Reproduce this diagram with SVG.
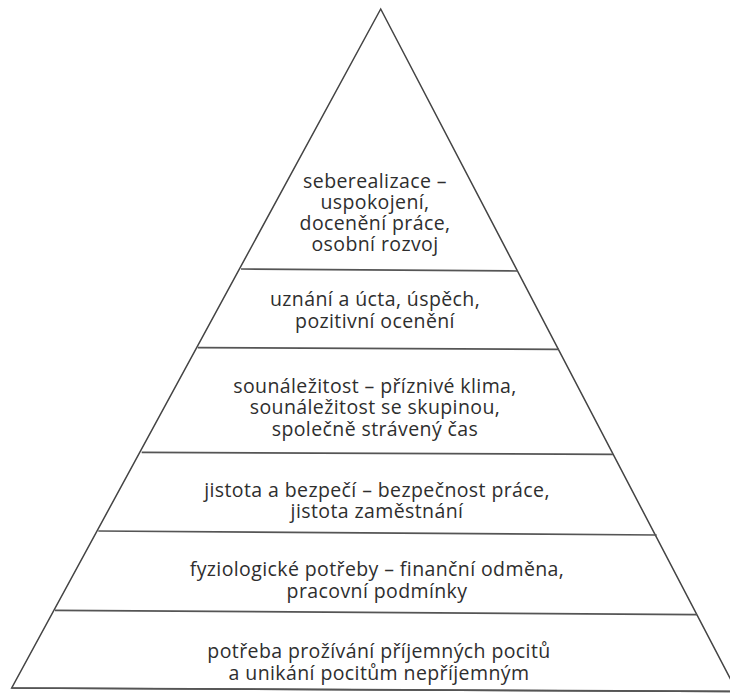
<svg xmlns="http://www.w3.org/2000/svg" width="730" height="693" viewBox="0 0 730 693">
<style>
.edge{fill:none;stroke:#444;stroke-width:1.5;stroke-linejoin:miter}
.div{stroke:#555;stroke-width:1.7;fill:none}
text{font-family:"Open Sans","Noto Sans","Liberation Sans",sans-serif;font-size:19.5px;letter-spacing:0.4px;fill:#2e2e2e;text-anchor:middle}
</style>
<rect width="730" height="693" fill="#fff"/>
<g id="connectors">
<polygon class="edge" points="380.7,9 11.7,688 737,691.5"/>
</g>
<g id="tier-selfrealization">
<text x="375" y="188">seberealizace –</text>
<text x="375" y="209">uspokojení,</text>
<text x="375" y="230">docenění práce,</text>
<text x="375" y="251">osobní rozvoj</text>
</g>
<g id="tier-esteem">
<line class="div" x1="241" y1="269" x2="518" y2="271"/>
<text x="375" y="306">uznání a úcta, úspěch,</text>
<text x="375" y="328">pozitivní ocenění</text>
</g>
<g id="tier-belonging">
<line class="div" x1="197.7" y1="347.7" x2="559" y2="349.3"/>
<text x="375" y="393">sounáležitost – příznivé klima,</text>
<text x="375" y="414">sounáležitost se skupinou,</text>
<text x="375" y="436">společně strávený čas</text>
</g>
<g id="tier-safety">
<line class="div" x1="141.7" y1="452.3" x2="613" y2="454.3"/>
<text x="377" y="497">jistota a bezpečí – bezpečnost práce,</text>
<text x="377" y="518">jistota zaměstnání</text>
</g>
<g id="tier-physiological">
<line class="div" x1="98.3" y1="531" x2="656.7" y2="535"/>
<text x="377" y="576">fyziologické potřeby – finanční odměna,</text>
<text x="377" y="598">pracovní podmínky</text>
</g>
<g id="tier-hedonic">
<line class="div" x1="55" y1="610.3" x2="697" y2="614.7"/>
<text x="379" y="658">potřeba prožívání příjemných pocitů</text>
<text x="379" y="680">a unikání pocitům nepříjemným</text>
<line class="div" x1="11.7" y1="688" x2="737" y2="691.5"/>
</g>
</svg>
